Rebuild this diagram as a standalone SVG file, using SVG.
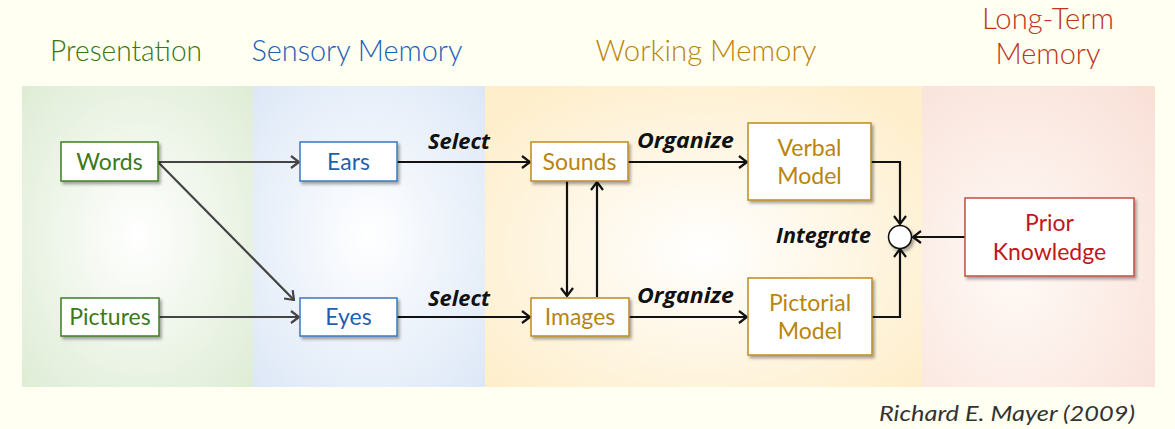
<svg xmlns="http://www.w3.org/2000/svg" width="1175" height="429" viewBox="0 0 1175 429">
<defs>
<radialGradient id="gG" cx="0.5" cy="0.5" r="0.75"><stop offset="0" stop-color="#ffffff"/><stop offset="1" stop-color="#dcebd2"/></radialGradient>
<radialGradient id="gB" cx="0.5" cy="0.5" r="0.75"><stop offset="0" stop-color="#ffffff"/><stop offset="1" stop-color="#dae6f6"/></radialGradient>
<radialGradient id="gO" cx="0.5" cy="0.55" r="0.65"><stop offset="0" stop-color="#ffffff"/><stop offset="1" stop-color="#feeecb"/></radialGradient>
<radialGradient id="gP" cx="0.4" cy="0.6" r="0.8"><stop offset="0" stop-color="#fffaf6"/><stop offset="1" stop-color="#f9e1d8"/></radialGradient>
<filter id="sh" x="-10%" y="-10%" width="130%" height="140%"><feDropShadow dx="2" dy="2.5" stdDeviation="1.5" flood-color="#000" flood-opacity="0.35"/></filter>
<marker id="ahd" viewBox="0 0 10 14" refX="9" refY="7" markerWidth="10" markerHeight="14" markerUnits="userSpaceOnUse" orient="auto"><path d="M1,1 L9,7 L1,13" fill="none" stroke="#444" stroke-width="2.2"/></marker>
<marker id="ahk" viewBox="0 0 10 14" refX="9" refY="7" markerWidth="10" markerHeight="14" markerUnits="userSpaceOnUse" orient="auto"><path d="M1,1 L9,7 L1,13" fill="none" stroke="#111" stroke-width="2.2"/></marker>
</defs>
<style>
.title{font-family:Lato,"Open Sans",sans-serif;font-size:29px;font-weight:300;text-anchor:middle}
.box{fill:#fff;stroke-width:1.5;filter:url(#sh)}
.lbl{font-family:Lato,"Open Sans",sans-serif;font-size:23px;font-weight:400;text-anchor:middle}
.act{font-family:"Open Sans",Lato,sans-serif;font-size:22px;font-weight:bold;font-style:italic;fill:#111}
.g{stroke:#3f7f1f}.gt{fill:#3a7a18}
.b{stroke:#3a78c4}.bt{fill:#1f5fb0}
.o{stroke:#c08a20}.ot{fill:#b8850e}
.r{stroke:#c05040}.rt{fill:#c01818}
.cd{fill:none;stroke:#444;stroke-width:2.2;marker-end:url(#ahd)}
.ck{fill:none;stroke:#111;stroke-width:2.2;marker-end:url(#ahk)}
</style>
<rect width="1175" height="429" fill="#fffff2"/>
<g id="panels">
<rect x="22" y="86" width="231" height="301" fill="url(#gG)"/>
<rect x="253" y="86" width="232" height="301" fill="url(#gB)"/>
<rect x="485" y="86" width="437" height="301" fill="url(#gO)"/>
<rect x="922" y="86" width="233" height="301" fill="url(#gP)"/>
</g>
<g id="titles">
<text class="title" x="126" y="61" fill="#3a7510" textLength="152" lengthAdjust="spacingAndGlyphs">Presentation</text>
<text class="title" x="357" y="61" fill="#1a62b8" textLength="211" lengthAdjust="spacingAndGlyphs">Sensory Memory</text>
<text class="title" x="706" y="61" fill="#bb850a" textLength="221" lengthAdjust="spacingAndGlyphs">Working Memory</text>
<text class="title" x="1048" y="29" fill="#c03418" textLength="132" lengthAdjust="spacingAndGlyphs">Long-Term</text>
<text class="title" x="1048" y="64" fill="#c03418" textLength="105" lengthAdjust="spacingAndGlyphs">Memory</text>
</g>
<g id="connectors">
<line class="cd" x1="158" y1="162" x2="299" y2="162"/>
<line class="cd" x1="158" y1="162" x2="294" y2="300"/>
<line class="cd" x1="159" y1="317" x2="299" y2="317"/>
<line class="ck" x1="397" y1="162" x2="530" y2="162"/>
<line class="ck" x1="397" y1="317" x2="530" y2="317"/>
<line class="ck" x1="628" y1="162" x2="747" y2="162"/>
<line class="ck" x1="629" y1="317" x2="747" y2="317"/>
<line class="ck" x1="567" y1="181" x2="567" y2="296"/>
<line class="ck" x1="597" y1="297" x2="597" y2="182"/>
<path class="ck" d="M871,162 H900 V224"/>
<path class="ck" d="M872,317 H900 V249"/>
<line class="ck" x1="965" y1="237" x2="913" y2="237"/>
</g>
<g id="labels">
<text class="act" x="428" y="149" textLength="62" lengthAdjust="spacingAndGlyphs">Select</text>
<text class="act" x="428" y="306" textLength="62" lengthAdjust="spacingAndGlyphs">Select</text>
<text class="act" x="637" y="148" textLength="97" lengthAdjust="spacingAndGlyphs">Organize</text>
<text class="act" x="637" y="303" textLength="97" lengthAdjust="spacingAndGlyphs">Organize</text>
<text class="act" x="776" y="243" textLength="95" lengthAdjust="spacingAndGlyphs">Integrate</text>
</g>
<g id="words"><rect class="box g" x="61" y="142" width="97" height="39"/><text class="lbl gt" x="109.5" y="170">Words</text></g>
<g id="pictures"><rect class="box g" x="61" y="298" width="98" height="38"/><text class="lbl gt" x="110" y="325">Pictures</text></g>
<g id="ears"><rect class="box b" x="300" y="142" width="97" height="39"/><text class="lbl bt" x="348.5" y="170">Ears</text></g>
<g id="eyes"><rect class="box b" x="300" y="298" width="97" height="38"/><text class="lbl bt" x="348.5" y="325">Eyes</text></g>
<g id="sounds"><rect class="box o" x="531" y="142" width="97" height="39"/><text class="lbl ot" x="579.5" y="170">Sounds</text></g>
<g id="images"><rect class="box o" x="531" y="298" width="98" height="38"/><text class="lbl ot" x="580" y="325">Images</text></g>
<g id="verbal"><rect class="box o" x="748" y="123" width="123" height="77"/><text class="lbl ot" x="809.5" y="156">Verbal</text><text class="lbl ot" x="809.5" y="184">Model</text></g>
<g id="pictorial"><rect class="box o" x="748" y="278" width="124" height="77"/><text class="lbl ot" x="810" y="311">Pictorial</text><text class="lbl ot" x="810" y="339">Model</text></g>
<g id="integrate"><circle cx="900" cy="237" r="11.5" fill="#fff" stroke="#111" stroke-width="1.5" filter="url(#sh)"/></g>
<g id="prior"><rect class="box r" x="965" y="198" width="169" height="78"/><text class="lbl rt" x="1049.5" y="231">Prior</text><text class="lbl rt" x="1049.5" y="260">Knowledge</text></g>
<text x="1135" y="421" font-family="Lato,'Open Sans',sans-serif" font-size="22" font-style="italic" fill="#333" text-anchor="end" textLength="256" lengthAdjust="spacingAndGlyphs">Richard E. Mayer (2009)</text>
</svg>
